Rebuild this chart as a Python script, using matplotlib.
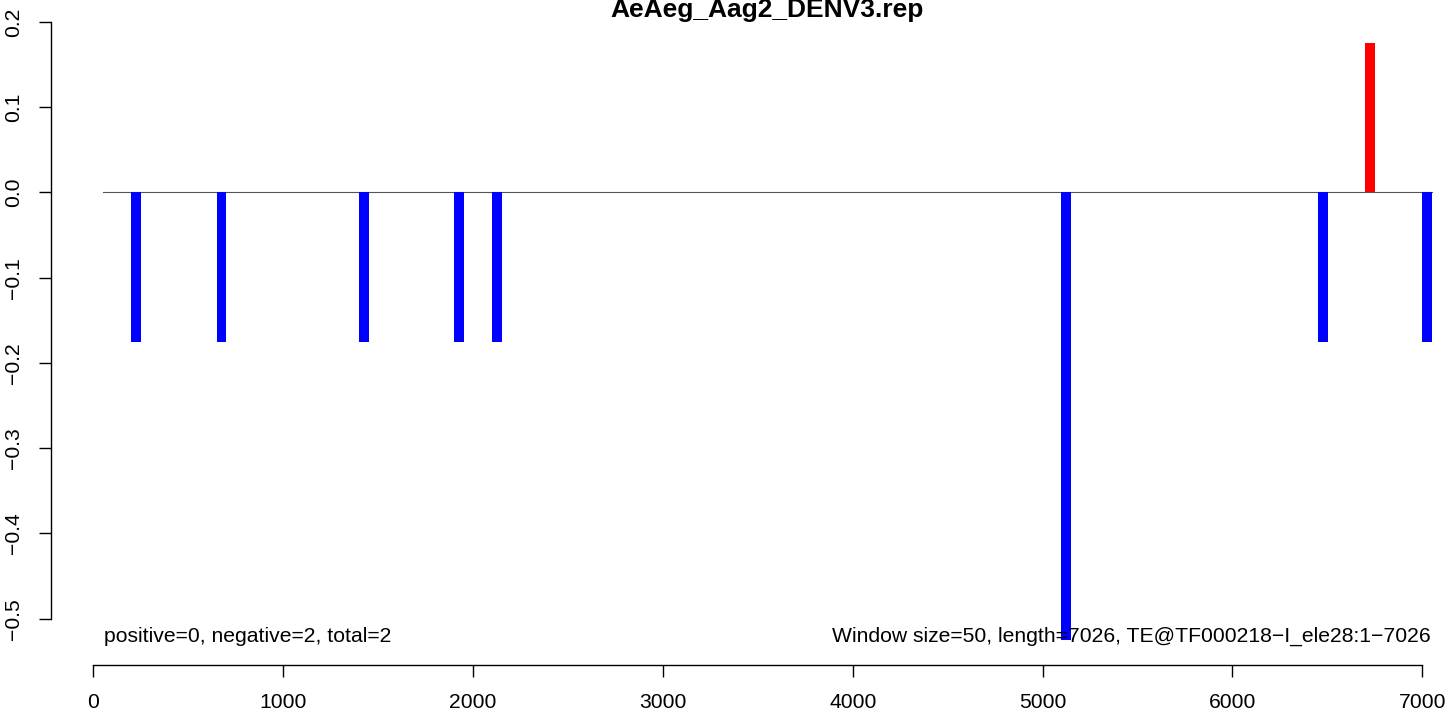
import matplotlib.pyplot as plt
import numpy as np

# ------------------------------------------------------------------------------------------
# data
neg_positions = [225, 675, 1425, 1925, 2125, 5125, 6475, 7025]
neg_values = [-0.175, -0.175, -0.175, -0.175, -0.175, -0.525, -0.175, -0.175]
pos_positions = [6725]
pos_values = [0.175]
baseline_x = [50, 7050]
baseline_y = [0.0, 0.0]

x_ticks = [0, 1000, 2000, 3000, 4000, 5000, 6000, 7000]
y_ticks = [-0.5, -0.4, -0.3, -0.2, -0.1, 0.0, 0.1, 0.2]

title = "AeAeg_Aag2_DENV3.rep"
left_note = "positive=0, negative=2, total=2"
right_note = "Window size=50, length=7026, TE@TF000218\u2212I_ele28:1\u22127026"

# ------------------------------------------------------------------------------------------
plt.rcParams['font.family'] = ['Liberation Sans', 'DejaVu Sans']
plt.rcParams['axes.unicode_minus'] = True
fs = 15.25

fig = plt.figure(figsize=(14.5, 7.15), dpi=100)
ax = fig.add_axes([50.7 / 1450, 1 - 665.3 / 715, (1440 - 50.7) / 1450, 665.3 / 715])

ax.plot(baseline_x, baseline_y, color="#555555", lw=0.8, zorder=1)
ax.bar(neg_positions, neg_values, width=52, color="#0000ff", zorder=2)
ax.bar(pos_positions, pos_values, width=52, color="#ff0000", zorder=2)

ax.text(55, -0.527, left_note, ha="left", va="baseline", fontsize=fs, zorder=3)
ax.text(7045, -0.527, right_note, ha="right", va="baseline", fontsize=fs, zorder=3)

ax.set_xlim(-224.4, 7093)
ax.set_ylim(-0.5547, 0.2258)

ax.spines['top'].set_visible(False)
ax.spines['right'].set_visible(False)
ax.spines['bottom'].set_bounds(0, 7000)
ax.spines['left'].set_bounds(-0.5, 0.2)
ax.spines['bottom'].set_linewidth(1.0)
ax.spines['left'].set_linewidth(1.0)

ax.set_xticks(x_ticks)
ax.set_xticklabels([str(t) for t in x_ticks])
ax.set_yticks(y_ticks)
ax.set_yticklabels(["{:.1f}".format(t).replace("-", "\u2212") for t in y_ticks],
                   rotation=90, va="center")
ax.tick_params(axis="both", length=8.6, width=1.0, labelsize=fs, pad=11)

fig.text(767.5 / 1450, 1 - 17 / 715, title, ha="center", va="baseline",
         fontsize=19, fontweight="bold")

plt.savefig("out.png", dpi=100)
